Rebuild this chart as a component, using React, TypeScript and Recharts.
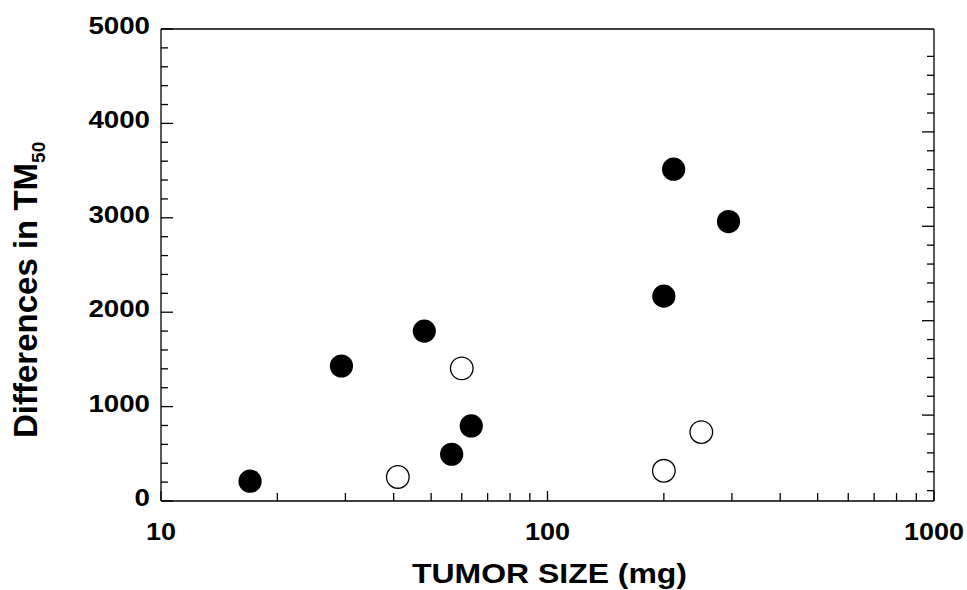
import { ScatterChart, Scatter, XAxis, YAxis, ReferenceLine, Label } from 'recharts';

// Tumor size (mg) vs. difference in TM50
const filledSize = [17, 29.3, 48, 56.5, 63.5, 200, 212, 294];
const filledDiff = [210, 1430, 1800, 495, 795, 2170, 3515, 2960];
const openSize = [41, 60, 200, 250];
const openDiff = [255, 1405, 320, 730];

const xTicks = [10, 20, 30, 40, 50, 60, 70, 80, 90, 100, 200, 300, 400, 500, 600, 700, 800, 900, 1000];
const xLabelTicks = [10, 100, 1000];
const yTicks = [
  0, 200, 400, 600, 800, 1000, 1200, 1400, 1600, 1800, 2000, 2200, 2400, 2600, 2800,
  3000, 3200, 3400, 3600, 3800, 4000, 4200, 4400, 4600, 4800, 5000,
];
const yLabelTicks = [0, 1000, 2000, 3000, 4000, 5000];

const W = 967;
const H = 590;
const LEFT = 161;
const TOP = 29;
const RIGHT = 934;
const BOTTOM = 501;
const RIGHT_SHIFT = 8.5; // right-hand ticks sit a little lower in the original
const FONT = '"Liberation Sans", Arial, Helvetica, sans-serif';
const INK = '#000';

const filled = filledSize.map((x, i) => ({ x, y: filledDiff[i] }));
const open = openSize.map((x, i) => ({ x, y: openDiff[i] }));

function YTick(props: any) {
  const { y, payload } = props;
  const v = payload.value as number;
  const major = v % 1000 === 0;
  const len = major ? 12 : 7;
  const label = String(v);
  const w = label.length * 15.4;
  const showRight = v > 0 && v < 5000;
  return (
    <g>
      <line x1={LEFT} x2={LEFT + len} y1={y} y2={y} stroke={INK} strokeWidth={1.3} />
      {showRight && (
        <line
          x1={RIGHT}
          x2={RIGHT - len}
          y1={y + RIGHT_SHIFT}
          y2={y + RIGHT_SHIFT}
          stroke={INK}
          strokeWidth={1.3}
        />
      )}
      {yLabelTicks.includes(v) && (
        <text
          x={LEFT - 11 - w}
          y={y + 5}
          textLength={w}
          lengthAdjust="spacingAndGlyphs"
          fontFamily={FONT}
          fontWeight="bold"
          fontSize={23}
          fill={INK}
        >
          {label}
        </text>
      )}
    </g>
  );
}

function XTick(props: any) {
  const { x, payload } = props;
  const v = payload.value as number;
  const major = xLabelTicks.includes(v);
  const len = major ? 10 : 8;
  const label = String(v);
  const w = label.length * 15;
  return (
    <g>
      <line x1={x} x2={x} y1={BOTTOM} y2={BOTTOM - len} stroke={INK} strokeWidth={1.3} />
      {major && (
        <text
          x={x - w / 2}
          y={BOTTOM + 39}
          textLength={w}
          lengthAdjust="spacingAndGlyphs"
          fontFamily={FONT}
          fontWeight="bold"
          fontSize={23}
          fill={INK}
        >
          {label}
        </text>
      )}
    </g>
  );
}

const XTitle = () => (
  <text
    x={412}
    y={583}
    textLength={275}
    lengthAdjust="spacingAndGlyphs"
    fontFamily={FONT}
    fontWeight="bold"
    fontSize={28}
    fill={INK}
  >
    TUMOR SIZE (mg)
  </text>
);

const YTitle = () => (
  <text
    x={37}
    y={438}
    transform="rotate(-90, 37, 438)"
    fontFamily={FONT}
    fontWeight="bold"
    fontSize={33}
    fill={INK}
  >
    Differences in TM
    <tspan dy={8} fontSize={19}>
      50
    </tspan>
  </text>
);

const FilledDot = (p: any) => <circle cx={p.cx} cy={p.cy} r={11.6} fill={INK} />;
const OpenDot = (p: any) => (
  <circle cx={p.cx} cy={p.cy} r={11.3} fill="#fff" stroke={INK} strokeWidth={1.3} />
);

export default function App() {
  return (
    <div style={{ position: 'absolute', left: 0, top: 0, background: '#fff' }}>
      <ScatterChart
        width={W}
        height={H}
        margin={{ top: TOP, right: W - RIGHT, bottom: 0, left: 0 }}
      >
        <XAxis
          type="number"
          dataKey="x"
          scale="log"
          domain={[10, 1000]}
          ticks={xTicks}
          interval={0}
          allowDataOverflow
          height={H - BOTTOM}
          tickLine={false}
          axisLine={{ stroke: INK, strokeWidth: 1.3 }}
          tick={(p: any) => <XTick {...p} />}
        >
          <Label content={() => <XTitle />} />
        </XAxis>
        <YAxis
          type="number"
          dataKey="y"
          domain={[0, 5000]}
          ticks={yTicks}
          interval={0}
          allowDataOverflow
          width={LEFT}
          tickLine={false}
          axisLine={{ stroke: INK, strokeWidth: 1.3 }}
          tick={(p: any) => <YTick {...p} />}
        >
          <Label content={() => <YTitle />} />
        </YAxis>
        <ReferenceLine y={5000} stroke={INK} strokeWidth={1.3} />
        <ReferenceLine x={1000} stroke={INK} strokeWidth={1.3} />
        <Scatter data={filled} shape={FilledDot} isAnimationActive={false} />
        <Scatter data={open} shape={OpenDot} isAnimationActive={false} />
      </ScatterChart>
    </div>
  );
}
